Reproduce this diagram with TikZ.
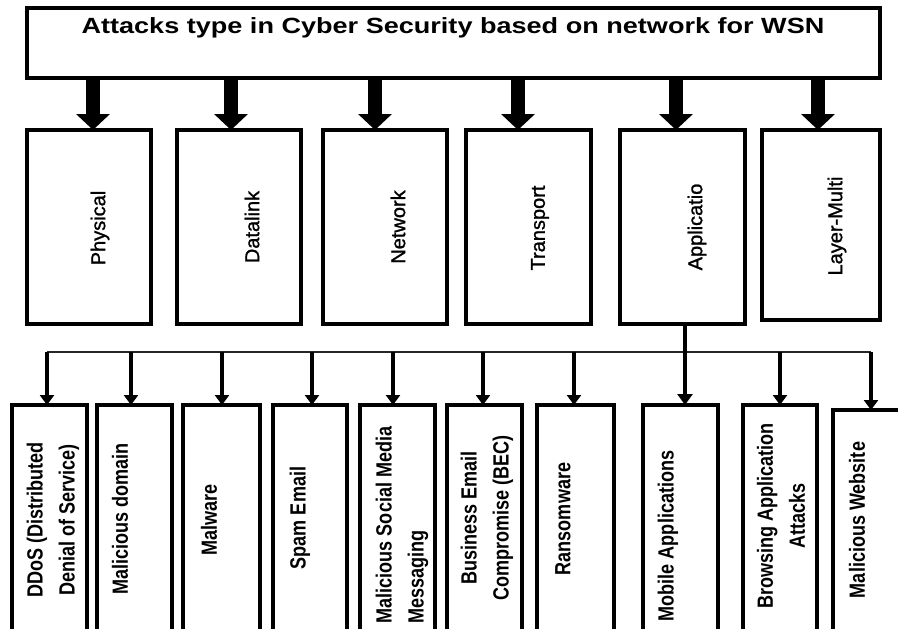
\documentclass[tikz,border=0pt]{standalone}
\usepackage{fontspec}
\setmainfont{Liberation Sans}
\newfontfamily\narrowbold[FakeStretch=0.82]{Liberation Sans Bold}
\newfontfamily\layerfont[FakeBold=1.2]{Liberation Sans}
\usetikzlibrary{arrows.meta}

\tikzset{
  frame/.style={draw=black, line width=3.6pt, inner sep=0pt, outer sep=0pt, fill=white},
  layerbox/.style={frame, minimum width=124pt, minimum height=194pt},
  leafbox/.style={frame, minimum width=75pt, minimum height=295pt},
  layertext/.style={rotate=90, inner sep=0pt, font=\layerfont\fontsize{20}{24}\selectfont},
  leaftext/.style={rotate=90, inner sep=0pt, align=center,
    font=\narrowbold\fontsize{22}{32}\selectfont},
  bigarrow/.style={line width=14pt, -{Triangle[width=33pt,length=16pt]}},
  bus/.style={line width=2.6pt, black!85},
  drop/.style={line width=3.2pt, -{Triangle[width=14pt,length=10pt]}},
  stem/.style={line width=4.2pt, -{Triangle[width=15pt,length=11pt]}}
}

\begin{document}
\begin{tikzpicture}[x=1pt,y=-1pt]
\clip (0,0) rectangle (898,629);
\fill[white] (0,0) rectangle (898,629);

% heading
\node[frame, minimum width=853pt, minimum height=70pt] (title) at (453.5,43) {};
\node[inner sep=0pt, font=\bfseries\fontsize{22}{26}\selectfont] (titletext) at (453,28)
  {\scalebox{1.23}[1]{Attacks type in Cyber Security based on network for WSN}};

% layers
\node[layerbox] (phys) at (89,227) {};
\node[layerbox] (dlink) at (239,227) {};
\node[layerbox] (net) at (385,227) {};
\node[layerbox, minimum width=125pt] (trans) at (528.5,227) {};
\node[layerbox, minimum width=125pt] (app) at (682.5,227) {};
\node[layerbox, minimum width=118pt, minimum height=190pt] (multi) at (821,225) {};

\node[layertext] (physT) at (100,228) {Physical};
\node[layertext] (dlinkT) at (252,227) {Datalink};
\node[layertext] (netT) at (398,227) {Network};
\node[layertext] (transT) at (540,228) {Transport};
\node[layertext] (appT) at (697,227) {Applicatio};
\node[layertext] (multiT) at (837,226) {Layer-Multi};

% arrows from the heading to each layer
\coordinate (a1) at (93,0);
\coordinate (a2) at (231,0);
\coordinate (a3) at (375,0);
\coordinate (a4) at (518,0);
\coordinate (a5) at (676,0);
\coordinate (a6) at (818,0);
\draw[bigarrow] (title.south -| a1) -- (phys.north -| a1);
\draw[bigarrow] (title.south -| a2) -- (dlink.north -| a2);
\draw[bigarrow] (title.south -| a3) -- (net.north -| a3);
\draw[bigarrow] (title.south -| a4) -- (trans.north -| a4);
\draw[bigarrow] (title.south -| a5) -- (app.north -| a5);
\draw[bigarrow] (title.south -| a6) -- (multi.north -| a6);

% attack types
\node[leafbox] (b1) at (49.5,552.5) {};
\node[leafbox] (b2) at (134.5,552.5) {};
\node[leafbox, minimum width=77pt] (b3) at (221.5,552.5) {};
\node[leafbox, minimum width=74pt] (b4) at (310,552.5) {};
\node[leafbox] (b5) at (397.5,552.5) {};
\node[leafbox] (b6) at (484.5,552.5) {};
\node[leafbox, minimum width=77pt] (b7) at (575.5,552.5) {};
\node[leafbox] (b8) at (680.5,552.5) {};
\node[leafbox, minimum width=74pt] (b9) at (780,552.5) {};
\node[leafbox] (b10) at (870.5,557.5) {};

\node[leaftext] (t1) at (53,520) {DDoS (Distributed\\Denial of Service)};
\node[leaftext] (t2) at (120,519) {Malicious domain};
\node[leaftext] (t3) at (209,520) {Malware};
\node[leaftext] (t4) at (300,518) {Spam Email};
\node[leaftext, align=left] (t5) at (402,525) {Malicious Social Media\\Messaging};
\node[leaftext] (t6) at (487,518) {Business Email\\Compromise (BEC)};
\node[leaftext] (t7) at (563,519) {Ransomware};
\node[leaftext] (t8) at (668,536) {Mobile Applications};
\node[leaftext] (t9) at (781,516) {Browsing Application\\Attacks};
\node[leaftext] (t10) at (857,520) {Malicious Website};

% distribution line and drops
\coordinate (d1) at (47,352);
\coordinate (d2) at (131,352);
\coordinate (d3) at (222,352);
\coordinate (d4) at (312,352);
\coordinate (d5) at (393,352);
\coordinate (d6) at (483,352);
\coordinate (d7) at (574,352);
\coordinate (d8) at (685,352);
\coordinate (d9) at (780,352);
\coordinate (d10) at (871,352);
\draw[bus] (d1) -- (d10);
\draw[drop] (d1) -- (b1.north -| d1);
\draw[drop] (d2) -- (b2.north -| d2);
\draw[drop] (d3) -- (b3.north -| d3);
\draw[drop] (d4) -- (b4.north -| d4);
\draw[drop] (d5) -- (b5.north -| d5);
\draw[drop] (d6) -- (b6.north -| d6);
\draw[drop] (d7) -- (b7.north -| d7);
\draw[drop] (d9) -- (b9.north -| d9);
\draw[drop] (d10) -- (b10.north -| d10);
\draw[stem] (app.south -| d8) -- (b8.north -| d8);
\end{tikzpicture}
\end{document}
